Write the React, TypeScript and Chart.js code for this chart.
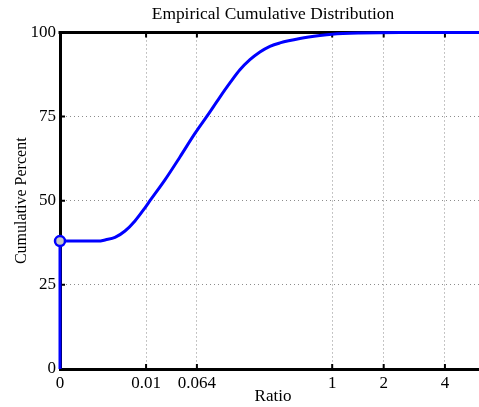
import React, { useEffect, useRef } from 'react';
import { Chart, registerables, LinearScale } from 'chart.js';

// ---- data ----
const ratioValues = [0, 0, 0.0001, 0.00038, 0.0008, 0.001664, 0.00325, 0.00575, 0.0095, 0.01193, 0.0221, 0.0377, 0.0604, 0.0843, 0.1192, 0.1519, 0.1909, 0.2371, 0.291, 0.3537, 0.4262, 0.6035, 0.831, 1.0, 1.473, 2.43, 6];
const cumulativePercent = [0, 38, 38, 38.0, 38.4, 39.1, 41.0, 44.0, 47.9, 50, 56.2, 63, 70, 75, 80.8, 85, 88.9, 91.9, 94.2, 95.9, 96.9, 98.2, 99.1, 99.5, 99.85, 100, 100];
const xTickValues = [0, 0.01, 0.064, 1, 2, 4];
const xTickLabels = ['0', '0.01', '0.064', '1', '2', '4'];
const yTickValues = [0, 25, 50, 75, 100];
const markerIndex = 1;

const root = (v: number) => Math.pow(Math.max(v, 0), 0.25);

class RootScale extends LinearScale {
  static id = 'root4';
  static defaults = {};
  buildTicks() {
    return xTickValues.map((v) => ({ value: v }));
  }
  getPixelForValue(value: number) {
    const a = root(this.min);
    const b = root(this.max);
    return this.getPixelForDecimal((root(value) - a) / (b - a));
  }
  getValueForPixel(pixel: number) {
    const a = root(this.min);
    const b = root(this.max);
    const d = this.getDecimalForPixel(pixel);
    return Math.pow(a + d * (b - a), 4);
  }
}

Chart.register(...registerables, RootScale as any);

const FONT = 'Liberation Serif, Times New Roman, serif';

const framePlugin = {
  id: 'matlabFrame',
  beforeDatasetsDraw(chart: any) {
    const { ctx, chartArea } = chart;
    const { left, right, top, bottom } = chartArea;
    const xs = chart.scales.x;
    const ys = chart.scales.y;
    ctx.save();
    ctx.strokeStyle = '#000';
    ctx.lineWidth = 3;
    ctx.beginPath();
    ctx.moveTo(left - 1.5, top);
    ctx.lineTo(right, top);
    ctx.stroke();
    ctx.lineWidth = 2;
    ctx.beginPath();
    xs.ticks.forEach((_t: any, i: number) => {
      const px = xs.getPixelForTick(i);
      if (Math.abs(px - left) < 2) return;
      ctx.moveTo(px, bottom);
      ctx.lineTo(px, bottom - 5);
      ctx.moveTo(px, top);
      ctx.lineTo(px, top + 5);
    });
    ys.ticks.forEach((_t: any, i: number) => {
      const py = ys.getPixelForTick(i);
      ctx.moveTo(left, py);
      ctx.lineTo(left + 5, py);
    });
    ctx.stroke();
    ctx.restore();
  },
};

export default function App() {
  const ref = useRef<HTMLCanvasElement | null>(null);
  useEffect(() => {
    if (!ref.current) return;
    const data = ratioValues.map((x, i) => ({ x, y: cumulativePercent[i] }));
    const chart = new Chart(ref.current, {
      type: 'line',
      data: {
        datasets: [
          {
            data,
            borderColor: 'rgb(0,0,255)',
            borderWidth: 3,
            cubicInterpolationMode: 'monotone',
            pointRadius: data.map((_, i) => (i === markerIndex ? 5 : 0)),
            pointBackgroundColor: '#c8c8c8',
            pointBorderColor: 'rgb(0,0,255)',
            pointBorderWidth: 2.5,
            clip: false as any,
          },
        ],
      },
      options: {
        animation: false,
        responsive: false,
        devicePixelRatio: 1,
        layout: { padding: { left: 0, right: 1, top: 0, bottom: 0 } },
        plugins: {
          legend: { display: false },
          tooltip: { enabled: false },
          title: {
            display: true,
            text: 'Empirical Cumulative Distribution',
            color: '#000',
            fullSize: false,
            font: { family: FONT, size: 17.4, weight: 'normal' },
            padding: { top: 4, bottom: 7.6 },
          },
        },
        scales: {
          x: {
            type: 'root4' as any,
            min: 0,
            max: 6,
            afterFit: (s: any) => {
              s.height = 38;
            },
            grid: {
              drawTicks: false,
              color: (c: any) => (c.tick && c.tick.value === 0 ? 'rgba(0,0,0,0)' : '#8c8c8c'),
              lineWidth: 1,
            },
            border: { display: true, color: '#000', width: 3, dash: [1, 3] },
            ticks: {
              autoSkip: false,
              maxRotation: 0,
              padding: 4,
              color: '#000',
              font: { family: FONT, size: 17 },
              callback: (_v: any, i: number) => xTickLabels[i],
            },
            title: {
              display: true,
              text: 'Ratio',
              color: '#000',
              font: { family: FONT, size: 17 },
              padding: { top: 0, bottom: 0 },
            },
          },
          y: {
            min: 0,
            max: 100,
            afterFit: (s: any) => {
              s.width = 60;
            },
            afterBuildTicks: (s: any) => {
              s.ticks = yTickValues.map((v) => ({ value: v }));
            },
            grid: {
              drawTicks: false,
              color: (c: any) =>
                c.tick && (c.tick.value === 0 || c.tick.value === 100) ? 'rgba(0,0,0,0)' : '#8c8c8c',
              lineWidth: 1,
            },
            border: { display: true, color: '#000', width: 3, dash: [1, 3] },
            ticks: {
              padding: 4,
              color: '#000',
              font: { family: FONT, size: 17 },
            },
            title: {
              display: true,
              text: 'Cumulative Percent',
              color: '#000',
              font: { family: FONT, size: 16 },
              padding: { top: 12, bottom: 0 },
            },
          },
        },
      },
      plugins: [framePlugin],
    });
    return () => chart.destroy();
  }, []);
  return (
    <div style={{ position: 'fixed', left: 0, top: 0, width: 479, height: 407, overflow: 'hidden', background: '#fff' }}>
      <canvas ref={ref} width={487} height={407} style={{ display: 'block', width: 487, height: 407 }} />
    </div>
  );
}
